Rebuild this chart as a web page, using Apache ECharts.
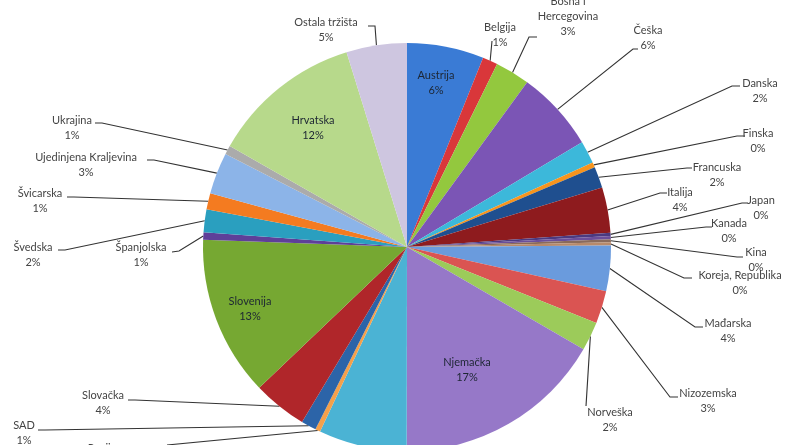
<!DOCTYPE html>
<html>
<head>
<meta charset="utf-8">
<script src="https://cdn.jsdelivr.net/npm/echarts@6/dist/echarts.min.js"></script>
<style>
html,body{margin:0;padding:0;background:#ffffff;}
#chart{width:800px;height:445px;}
</style>
</head>
<body>
<div id="chart"></div>
<script>
// ---- data (share of total, %) ----
const categories = [
  'Austrija','Belgija','Bosna i Hercegovina','Češka','Danska','Finska','Francuska','Italija',
  'Japan','Kanada','Kina','Koreja, Republika','Mađarska','Nizozemska','Norveška','Njemačka',
  'Poljska','Rusija','SAD','Slovačka','Slovenija','Španjolska','Švedska','Švicarska',
  'Ujedinjena Kraljevina','Ukrajina','Hrvatska','Ostala tržišta'
];
const values = [
  6.1, 1.2, 2.75, 6.4, 1.8, 0.4, 1.7, 3.6,
  0.25, 0.25, 0.25, 0.25, 3.6, 2.6, 2.3, 16.7,
  7.0, 0.4, 1.2, 4.3, 12.7, 0.6, 1.8, 1.3,
  3.3, 0.7, 12.0, 4.8
];
const insideNames = ['Austrija','Hrvatska','Slovenija','Njemačka'];

// ---- styles ----
const colors = [
  '#3A7BD5','#D9373A','#93C83E','#7B55B5','#3CB8DA','#F7941D','#1F4F8F','#8E1B1E',
  '#4B3A80','#6B4E9A','#8A6A5A','#B88A6A','#6A9BDD','#DA5452','#9CCB5A','#9678C8',
  '#4BB3D4','#F5A04A','#2C64A8','#B0262A','#76A832','#5E3F99','#2A9FBF','#F47B20',
  '#8CB4E8','#ABABAB','#B7D98B','#CEC6E0'
];

// ---- manual label placement (label centre c, leader bend b, leader end e) ----
const labelPlacement = {
  'Austrija':            {c:[436,83]},
  'Hrvatska':            {c:[313,128]},
  'Slovenija':           {c:[250,309]},
  'Njemačka':            {c:[467,370]},
  'Ostala tržišta':      {c:[326,30],  b:[375,26],  e:[368,26]},
  'Belgija':             {c:[500,35],  b:[492,41],  e:[492,41]},
  'Bosna i Hercegovina': {c:[568,16],  b:[529,37],  e:[537,37]},
  'Češka':               {c:[648,38],  b:[633,49],  e:[638,49]},
  'Danska':              {c:[760,91],  b:[732,86],  e:[740,86]},
  'Finska':              {c:[758,141], b:[737,136], e:[745,136]},
  'Francuska':           {c:[717,175], b:[687,168], e:[692,168]},
  'Italija':             {c:[680,200], b:[660,193], e:[667,193]},
  'Japan':               {c:[761,208], b:[742,203], e:[748,203]},
  'Kanada':              {c:[729,231], b:[706,227], e:[712,227]},
  'Kina':                {c:[756,260], b:[737,257], e:[743,257]},
  'Koreja, Republika':   {c:[740,283], b:[684,278], e:[692,278]},
  'Mađarska':            {c:[728,331], b:[695,327], e:[703,327]},
  'Nizozemska':          {c:[708,401], b:[670,397], e:[678,397]},
  'Norveška':            {c:[610,420], b:[586,406], e:[586,406]},
  'Poljska':             {c:[360,468], b:[372,460], e:[372,460]},
  'Rusija':              {c:[102,456], b:[167,445], e:[167,445]},
  'SAD':                 {c:[24,433],  b:[45,430],  e:[38,430]},
  'Slovačka':            {c:[103,403], b:[135,400], e:[128,400]},
  'Španjolska':          {c:[141,255], b:[179,251], e:[172,252]},
  'Švedska':             {c:[33,255],  b:[65,250],  e:[58,250]},
  'Švicarska':           {c:[40,201],  b:[74,197],  e:[67,197]},
  'Ujedinjena Kraljevina':{c:[86,165], b:[154,160], e:[147,160]},
  'Ukrajina':            {c:[72,128],  b:[102,123], e:[95,123]}
};

function wrapName(n) {
  return n === 'Bosna i Hercegovina' ? 'Bosna i\nHercegovina' : n;
}

const data = categories.map(function (name, i) {
  const inside = insideNames.indexOf(name) >= 0;
  return {
    name: name,
    value: values[i],
    itemStyle: {color: colors[i]},
    label: {color: inside ? '#1d2633' : '#444444'},
    labelLine: {show: !inside}
  };
});

const chart = echarts.init(document.getElementById('chart'), null, {renderer: 'canvas'});
chart.setOption({
  animation: false,
  backgroundColor: '#ffffff',
  series: [{
    type: 'pie',
    center: [407, 247],
    radius: 204,
    startAngle: 90,
    clockwise: true,
    avoidLabelOverlap: false,
    emphasis: {disabled: true},
    data: data,
    label: {
      show: true,
      position: 'outside',
      fontFamily: 'Lato, "Open Sans", sans-serif',
      fontSize: 11,
      lineHeight: 15,
      color: '#444444',
      formatter: function (p) {
        return wrapName(p.name) + '\n' + Math.round(p.value) + '%';
      }
    },
    labelLine: {
      show: true,
      length: 10,
      length2: 10,
      smooth: false,
      lineStyle: {color: '#333333', width: 1.1}
    },
    labelLayout: function (params) {
      const name = categories[params.dataIndex];
      const L = labelPlacement[name];
      if (!L) return {hideOverlap: false};
      const out = {x: L.c[0], y: L.c[1], align: 'center', verticalAlign: 'middle', hideOverlap: false};
      if (L.e && params.labelLinePoints && params.labelLinePoints.length) {
        out.labelLinePoints = [params.labelLinePoints[0], L.b, L.e];
      }
      return out;
    }
  }]
});
</script>
</body>
</html>
